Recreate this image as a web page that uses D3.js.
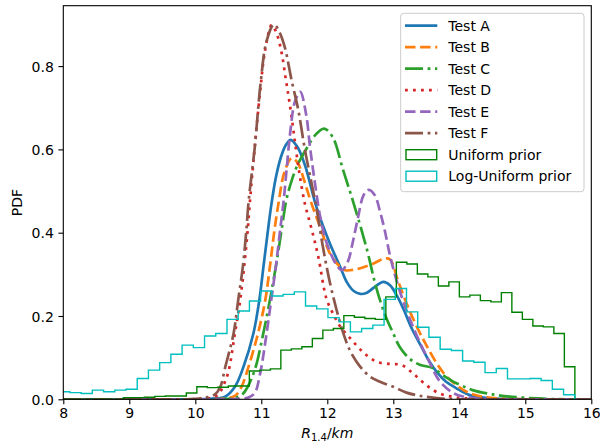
<!DOCTYPE html>
<html><head><meta charset="utf-8">
<script src="https://cdn.jsdelivr.net/npm/d3@7"></script>
<style>
body{margin:0;background:#fff;}
text{font-family:"DejaVu Sans",sans-serif;}
</style></head>
<body><svg id="c" width="600" height="448"></svg>
<script>
// ---------- data ----------
const xTicks = [8, 9, 10, 11, 12, 13, 14, 15, 16];
const yTicks = [0.0, 0.2, 0.4, 0.6, 0.8];
const seriesNames = ["Test A", "Test B", "Test C", "Test D", "Test E", "Test F"];
const histNames = ["Uniform prior", "Log-Uniform prior"];

const testA = [[8,0],[10.0,0],[10.2,0.001],[10.45,0.006],[10.6,0.03],[10.73,0.078],[10.88,0.158],[10.97,0.238],[11.03,0.315],[11.09,0.392],[11.15,0.465],[11.22,0.532],[11.3,0.583],[11.37,0.61],[11.445,0.623],[11.55,0.605],[11.66,0.563],[11.82,0.47],[11.95,0.41],[12.05,0.37],[12.19,0.32],[12.3,0.28],[12.4,0.26],[12.5,0.253],[12.6,0.256],[12.72,0.27],[12.85,0.282],[12.95,0.274],[13.05,0.25],[13.15,0.218],[13.28,0.17],[13.43,0.125],[13.55,0.09],[13.66,0.065],[13.8,0.042],[13.95,0.027],[14.16,0.01],[14.5,0.002],[15,0],[16,0]];
const testB = [[8,0],[10.2,0],[10.45,0.002],[10.6,0.008],[10.7,0.03],[10.8,0.075],[10.95,0.158],[11.06,0.238],[11.13,0.318],[11.19,0.395],[11.26,0.47],[11.35,0.545],[11.46,0.579],[11.55,0.568],[11.65,0.525],[11.75,0.475],[11.9,0.41],[12.04,0.35],[12.17,0.322],[12.27,0.31],[12.4,0.311],[12.55,0.317],[12.7,0.326],[12.85,0.337],[12.95,0.336],[13.07,0.285],[13.24,0.215],[13.4,0.16],[13.5,0.13],[13.66,0.086],[13.81,0.054],[13.95,0.035],[14.11,0.018],[14.3,0.008],[14.6,0.002],[15,0],[16,0]];
const testC = [[8,0],[10.3,0],[10.5,0.001],[10.6,0.003],[10.7,0.01],[10.78,0.026],[10.9,0.07],[11.03,0.158],[11.13,0.238],[11.22,0.318],[11.30,0.399],[11.38,0.479],[11.46,0.525],[11.55,0.563],[11.69,0.603],[11.82,0.635],[11.95,0.650],[12.08,0.63],[12.24,0.55],[12.4,0.47],[12.6,0.36],[12.73,0.275],[12.87,0.205],[13.0,0.158],[13.1,0.125],[13.25,0.097],[13.4,0.083],[13.6,0.075],[13.75,0.058],[13.9,0.043],[14.05,0.032],[14.2,0.022],[14.5,0.012],[14.8,0.006],[15.2,0.002],[15.6,0],[16,0]];
const testD = [[8,0],[9.8,0],[10.1,0.001],[10.25,0.004],[10.35,0.012],[10.43,0.035],[10.5,0.065],[10.6,0.158],[10.68,0.238],[10.74,0.318],[10.79,0.399],[10.83,0.479],[10.88,0.57],[10.98,0.735],[11.06,0.84],[11.16,0.899],[11.24,0.875],[11.31,0.83],[11.37,0.77],[11.43,0.71],[11.5,0.63],[11.57,0.55],[11.66,0.47],[11.76,0.41],[11.86,0.345],[11.99,0.24],[12.09,0.205],[12.19,0.176],[12.35,0.146],[12.55,0.112],[12.75,0.09],[12.95,0.085],[13.13,0.082],[13.3,0.062],[13.5,0.034],[13.7,0.014],[13.9,0.006],[14.1,0.002],[14.5,0],[16,0]];
const testE = [[8,0],[10.4,0],[10.65,0.001],[10.8,0.004],[10.9,0.015],[10.98,0.06],[11.08,0.158],[11.15,0.238],[11.22,0.318],[11.28,0.399],[11.34,0.479],[11.39,0.563],[11.44,0.643],[11.51,0.715],[11.59,0.738],[11.68,0.683],[11.74,0.603],[11.81,0.522],[11.89,0.44],[11.97,0.385],[12.04,0.355],[12.13,0.325],[12.22,0.31],[12.31,0.33],[12.39,0.38],[12.47,0.44],[12.55,0.49],[12.63,0.503],[12.72,0.49],[12.80,0.45],[12.87,0.406],[12.95,0.345],[13.05,0.285],[13.18,0.222],[13.35,0.155],[13.53,0.095],[13.71,0.042],[13.91,0.015],[14.07,0.006],[14.3,0.001],[14.6,0],[16,0]];
const testF = [[8,0],[9.8,0],[10.0,0.001],[10.15,0.004],[10.3,0.012],[10.38,0.03],[10.45,0.075],[10.58,0.158],[10.65,0.238],[10.72,0.318],[10.77,0.399],[10.81,0.479],[10.9,0.603],[10.99,0.76],[11.08,0.86],[11.19,0.900],[11.28,0.88],[11.36,0.843],[11.46,0.765],[11.56,0.695],[11.66,0.60],[11.76,0.52],[11.84,0.455],[11.94,0.36],[12.04,0.28],[12.14,0.215],[12.24,0.16],[12.35,0.115],[12.5,0.078],[12.65,0.054],[12.8,0.042],[13.0,0.030],[13.2,0.016],[13.35,0.01],[13.5,0.006],[13.8,0.001],[14.2,0],[16,0]];

// Uniform prior histogram: first bin edge, bin width, bin heights
const uniformStart = 7.796, uniformWidth = 0.1591;
const uniformValues = [0,0,0,0,0,0,0,
  0.004,0.004,0.005,0.007,0.008,0.008,0.015,0.030,0.028,0.029,0.032,0.032,0.068,0.070,0.073,
  0.118,0.121,0.126,0.146,0.166,0.170,0.201,0.197,0.194,0.192,0.246,0.329,0.325,0.301,0.294,
  0.272,0.282,0.246,0.250,0.237,0.234,0.256,0.209,0.192,0.176,0.174,0.158,0.078];
// Log-uniform prior histogram
const logStart = 7.93, logWidth = 0.17;
const logValues = [0.018,0.016,0.014,0.022,0.018,0.022,0.024,0.050,0.070,0.088,0.108,0.130,0.124,
  0.152,0.158,0.192,0.212,0.236,0.260,0.248,0.252,0.258,0.224,0.217,0.196,0.186,0.162,0.170,0.178,
  0.240,0.266,0.210,0.173,0.149,0.120,0.117,0.092,0.089,0.064,0.074,0.049,0.049,0.050,0.045,0.024,0.011];

// ---------- styles ----------
const tests = [testA, testB, testC, testD, testE, testF];
const colors = ["#1f77b4", "#ff7f0e", "#2ca02c", "#d62728", "#9467bd", "#8c564b"];
const dashes = [null, "10.5,4.6", "18,4.6,2.8,4.6", "2.8,5.2", "10.5,4.6", "18,4.6,2.8,4.6"];
const histColors = ["#008000", "#00bfbf"];

const svg = d3.select("#c");
const L = 63.3, R = 591.3, T = 5.7, B = 399.3;
const x = d3.scaleLinear().domain([8, 16]).range([L, R]);
const y = d3.scaleLinear().domain([0, 0.945]).range([B, T]);

svg.append("defs").append("clipPath").attr("id", "clip")
  .append("rect").attr("x", L).attr("y", T - 2).attr("width", R - L).attr("height", B - T + 2);

const plot = svg.append("g").attr("clip-path", "url(#clip)");
const line = d3.line().x(d => x(d[0])).y(d => y(Math.max(0, d[1]))).curve(d3.curveCatmullRom.alpha(0.5));

tests.forEach((t, i) => {
  plot.append("path").attr("d", line(t)).attr("fill", "none")
    .attr("stroke", colors[i]).attr("stroke-width", 2.7)
    .attr("stroke-dasharray", dashes[i]);
});

function stepPoints(start, w, vals) {
  const pts = [[start, 0]];
  vals.forEach((v, i) => { pts.push([start + i * w, v]); pts.push([start + (i + 1) * w, v]); });
  pts.push([start + vals.length * w, 0]);
  return pts;
}
const lin = d3.line().x(d => x(d[0])).y(d => y(d[1]));
[[uniformStart, uniformWidth, uniformValues], [logStart, logWidth, logValues]].forEach((h, i) => {
  plot.append("path").attr("d", lin(stepPoints(h[0], h[1], h[2]))).attr("fill", "none")
    .attr("stroke", histColors[i]).attr("stroke-width", 1.4);
});

// axes
const xAxis = svg.append("g").attr("transform", `translate(0,${B})`)
  .call(d3.axisBottom(x).tickValues(xTicks).tickSize(4.9).tickPadding(4).tickFormat(d3.format("d")));
const yAxis = svg.append("g").attr("transform", `translate(${L},0)`)
  .call(d3.axisLeft(y).tickValues(yTicks).tickSize(4.9).tickPadding(4.6).tickFormat(d3.format(".1f")));
[xAxis, yAxis].forEach(a => {
  a.select(".domain").remove();
  a.selectAll("line").attr("stroke", "#000").attr("stroke-width", 1.1);
  a.selectAll("text").attr("font-size", 14).attr("fill", "#000").attr("font-family", "DejaVu Sans");
});
yAxis.selectAll("text").attr("dy", "0.36em");

svg.append("rect").attr("x", L).attr("y", T).attr("width", R - L).attr("height", B - T)
  .attr("fill", "none").attr("stroke", "#000").attr("stroke-width", 1.1);

// labels
svg.append("text").attr("transform", "translate(21.5,202.5) rotate(-90)")
  .attr("text-anchor", "middle").attr("font-size", 14).text("PDF");
const xl = svg.append("text").attr("x", (L + R) / 2).attr("y", 438).attr("text-anchor", "middle").attr("font-size", 14);
xl.append("tspan").attr("font-style", "italic").text("R");
xl.append("tspan").attr("font-size", 10).attr("dy", 3).text("1.4");
xl.append("tspan").attr("dy", -3).text("/");
xl.append("tspan").attr("font-style", "italic").text("km");

// legend
const lg = svg.append("g");
lg.append("rect").attr("x", 400.7).attr("y", 13.3).attr("width", 183.3).attr("height", 178.4)
  .attr("rx", 3).attr("fill", "#fff").attr("fill-opacity", 0.8).attr("stroke", "#cccccc").attr("stroke-width", 1);
const rowY = i => 25.7 + i * 21.5;
seriesNames.forEach((n, i) => {
  lg.append("line").attr("x1", 405).attr("x2", 437.3).attr("y1", rowY(i)).attr("y2", rowY(i))
    .attr("stroke", colors[i]).attr("stroke-width", 2.7).attr("stroke-dasharray", dashes[i]);
  lg.append("text").attr("x", 448.3).attr("y", rowY(i)).attr("dy", "0.36em").attr("font-size", 14).text(n);
});
histNames.forEach((n, j) => {
  const i = j + 6;
  lg.append("rect").attr("x", 406).attr("y", rowY(i) - 5).attr("width", 30.7).attr("height", 10)
    .attr("fill", "none").attr("stroke", histColors[j]).attr("stroke-width", 1.4);
  lg.append("text").attr("x", 448.3).attr("y", rowY(i)).attr("dy", "0.36em").attr("font-size", 14).text(n);
});
</script></body></html>
